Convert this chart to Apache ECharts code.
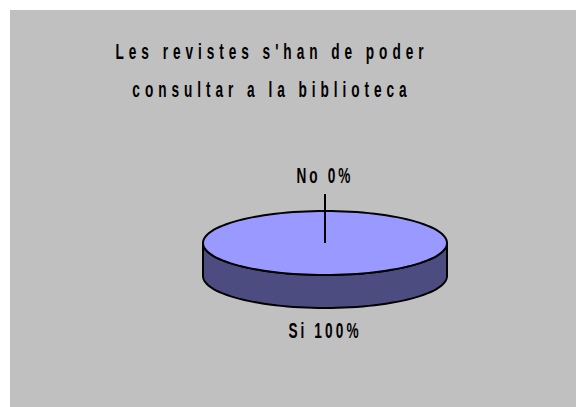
<!DOCTYPE html>
<html>
<head>
<meta charset="utf-8">
<script src="https://cdn.jsdelivr.net/npm/echarts@6/dist/echarts.min.js"></script>
<style>
  html, body { margin: 0; padding: 0; background: #ffffff; }
  #chart { position: absolute; left: 10px; top: 10px; width: 566px; height: 397px; }
  /* the old export spreads every letter out, the title a bit more */
  #chart text { letter-spacing: 8px; }
  #chart text[style*="Arial"], #chart text[font-family*="Arial"] { letter-spacing: 5px; }
</style>
</head>
<body>
<div id="chart"></div>
<script>
var titleLines = ["Les revistes s'han de poder", "consultar a la biblioteca"];
var categories = ["Si", "No"];
var values = [100, 0];

var total = values.reduce(function (a, b) { return a + b; }, 0);
var titleFont = "bold 22px 'Liberation Sans', sans-serif";
var labelFont = "bold 22px Arial, 'Liberation Sans', sans-serif";

// pie geometry (chart px)
var cx = 315, cy = 233, rx = 122, ry = 32, depth = 33;

function pt(deg, dy) {
  var r = deg * Math.PI / 180;
  return [cx + rx * Math.sin(r), cy - ry * Math.cos(r) + (dy || 0)];
}
function arc(a, b, dy) {
  var out = [];
  var n = Math.max(2, Math.ceil((b - a) / 3));
  for (var i = 0; i <= n; i++) out.push(pt(a + (b - a) * i / n, dy));
  return out;
}

function renderSlice(params, api) {
  var i = params.dataIndex;
  var before = 0;
  for (var k = 0; k < i; k++) before += values[k];
  var v = api.value(1);
  var a0 = before / total * 360;
  var a1 = (before + v) / total * 360;
  var mid = (a0 + a1) / 2;
  var children = [];
  var line = { stroke: '#000', lineWidth: 2 };

  // side wall, only the front half shows
  var s0 = Math.max(a0, 90), s1 = Math.min(a1, 270);
  if (s1 > s0) {
    var side = arc(s0, s1, 0).concat(arc(s0, s1, depth).reverse());
    children.push({ type: 'polygon', shape: { points: side },
      style: Object.assign({ fill: '#4c4c80' }, line) });
  }
  // top face
  if (a1 > a0) {
    var top = arc(a0, a1, 0);
    if (a1 - a0 < 360) top.unshift([cx, cy]);
    children.push({ type: 'polygon', shape: { points: top },
      style: Object.assign({ fill: '#9999ff' }, line) });
  }

  var front = Math.cos(mid * Math.PI / 180) < 0;
  var gap = v === 0 ? 36 : 22;
  var r = mid * Math.PI / 180;
  var lx = cx + (rx + gap) * Math.sin(r);
  var ly = cy - (ry + gap) * Math.cos(r) + (front ? depth : 0);
  if (v === 0) {
    var ex = cx + (rx + gap - 19) * Math.sin(r);
    var ey = cy - (ry + gap - 19) * Math.cos(r);
    children.push({ type: 'line', shape: { x1: cx, y1: cy, x2: ex, y2: ey },
      style: { stroke: '#000', lineWidth: 2 } });
  }
  children.push({ type: 'text', x: lx, y: ly, scaleX: 0.62,
    style: { text: categories[i] + ' ' + Math.round(v / total * 100) + '%',
      fill: '#000', font: labelFont, align: 'center', verticalAlign: 'middle' } });

  return { type: 'group', children: children };
}

var chart = echarts.init(document.getElementById('chart'), null, { renderer: 'svg' });
chart.setOption({
  backgroundColor: '#c0c0c0',
  animation: false,
  graphic: titleLines.map(function (t, i) {
    return { type: 'text', x: 262, y: 41 + i * 38, scaleX: 0.62,
      style: { text: t, fill: '#000', font: titleFont, align: 'center', verticalAlign: 'middle' } };
  }),
  series: [{
    type: 'custom',
    coordinateSystem: 'none',
    renderItem: renderSlice,
    data: categories.map(function (c, i) { return [i, values[i]]; })
  }]
});
</script>
</body>
</html>
